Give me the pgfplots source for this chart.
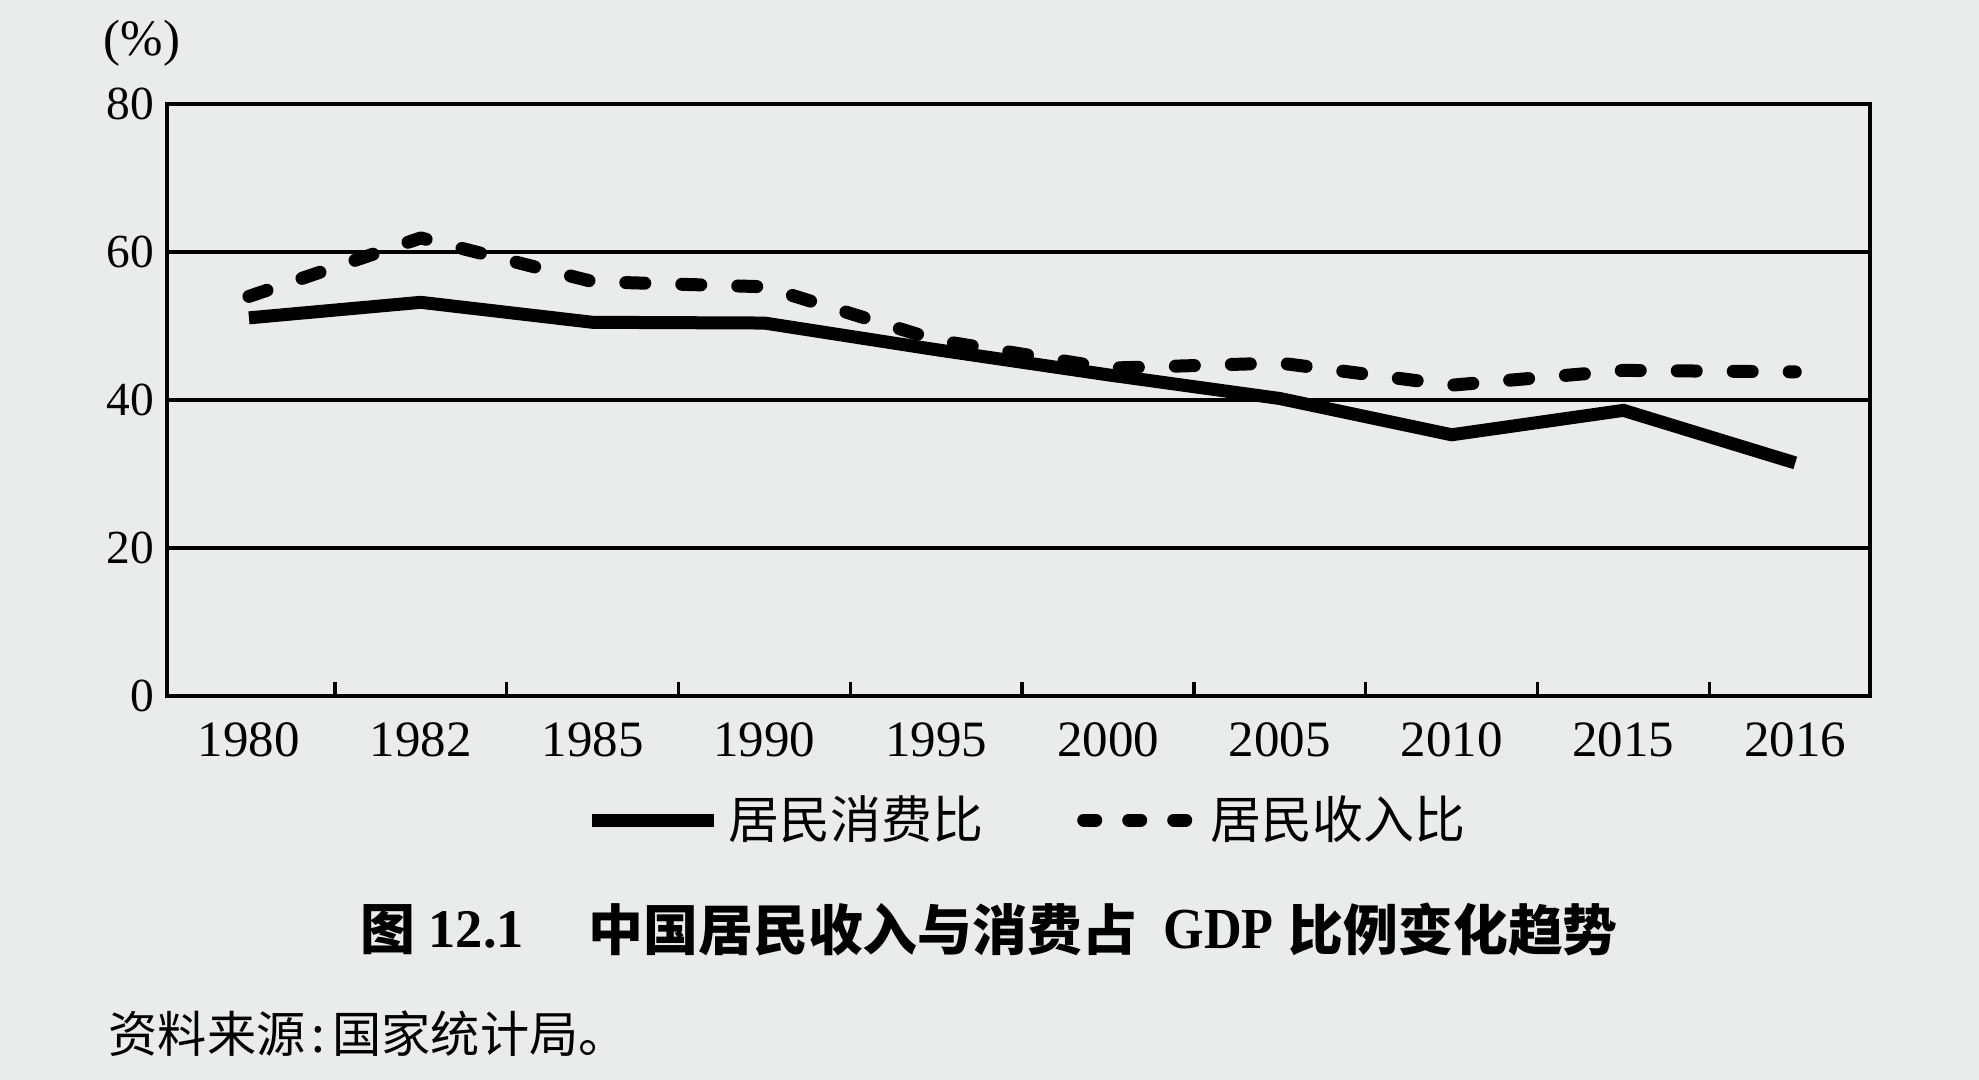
\documentclass[border=0pt]{standalone}
\usepackage{fontspec}
\usepackage{graphicx}
\usepackage{pgfplots}
\pgfplotsset{compat=1.18}
\setmainfont{Liberation Serif}
\newfontfamily\cjk{Noto Sans CJK SC}
\definecolor{paper}{RGB}{234,235,235}

\begin{document}
\begin{tikzpicture}
\fill[paper] (0,0) rectangle (19.79,10.80);
\begin{axis}[
  at={(1.67cm,3.84cm)}, anchor=south west,
  width=17.03cm, height=5.92cm, scale only axis,
  xmin=-0.477, xmax=9.435, ymin=0, ymax=80,
  xtick={0,...,9},
  xticklabels={1980,1982,1985,1990,1995,2000,2005,2010,2015,2016},
  minor x tick num=1,
  ytick={0,20,40,60,80},
  ymajorgrids,
  major grid style={black, line width=1.1pt},
  axis line style={black, line width=1.3pt},
  tick align=inside,
  xtick pos=bottom, ytick pos=left,
  major tick length=0pt,
  minor tick length=0.14cm,
  minor tick style={line width=1pt, black},
  /pgf/number format/assume math mode=true,
  xticklabel style={font=\fontsize{14.5}{16}\selectfont, inner sep=0pt, yshift=-0.26cm},
  yticklabel style={font=\fontsize{13.5}{15}\selectfont, inner sep=0pt, xshift=-0.12cm},
  legend columns=2,
  legend cell align=left,
  legend style={
    draw=none, fill=none, inner sep=0pt, outer sep=0pt,
    at={(0.246,-0.2095)}, anchor=west,
    font={\cjk\fontsize{14.5}{17}\selectfont},
    nodes={inner sep=0pt},
    /tikz/column 1/.style={column sep=0.08cm},
    /tikz/column 2/.style={column sep=0.935cm},
    /tikz/column 3/.style={column sep=0.185cm},
  },
]
\addplot[black, line width=0.13cm,
  legend image code/.code={\draw[black, line width=0.13cm] (0cm,0cm) -- (1.22cm,0cm);}]
  coordinates {(0,51.1) (1,53.2) (2,50.5) (3,50.4) (4,46.8) (5,43.4) (6,40.2) (7,35.3) (8,38.6) (9,31.5)};
\addlegendentry{居民消费比}
\addplot[black, line width=0.13cm, line cap=round, line join=round, dash pattern=on 0.19cm off 0.37cm,
  legend image code/.code={\draw[black, line width=0.13cm, line cap=round, dash pattern=on 0.12cm off 0.33cm] (0cm,0cm) -- (1.02cm,0cm);}]
  coordinates {(0,54.0) (1,61.9) (2,56.0) (3,55.3) (4,48.1) (5,44.3) (6,45.0) (7,42.0) (8,44.0) (9,43.8)};
\addlegendentry{居民收入比}
\end{axis}
\node[anchor=west, inner sep=0pt] at (1.03,10.37) {\fontsize{14.5}{16}\selectfont (\%)};
\node[anchor=west, inner sep=0pt] at (3.60,1.50) {\cjk\bfseries\fontsize{15.6}{18}\selectfont 图};
\node[anchor=west, inner sep=0pt] at (4.28,1.50) {\bfseries\fontsize{15.5}{18}\selectfont 12.1};
\node[anchor=west, inner sep=0pt] at (5.88,1.50) {\cjk\bfseries\fontsize{15.6}{18}\selectfont 中国居民收入与消费占};
\node[anchor=west, inner sep=0pt] at (11.63,1.50) {\bfseries\fontsize{16.5}{18}\selectfont\scalebox{0.9}[1]{GDP}};
\node[anchor=west, inner sep=0pt] at (12.88,1.50) {\cjk\bfseries\fontsize{15.6}{18}\selectfont 比例变化趋势};
\node[anchor=west, inner sep=0pt] at (1.08,0.46) {\cjk\fontsize{14}{17}\selectfont 资料来源\kern0.12em:\kern0.15em 国家统计局。};
\pgfresetboundingbox
\useasboundingbox (0,0) rectangle (19.79,10.80);
\end{tikzpicture}
\end{document}
